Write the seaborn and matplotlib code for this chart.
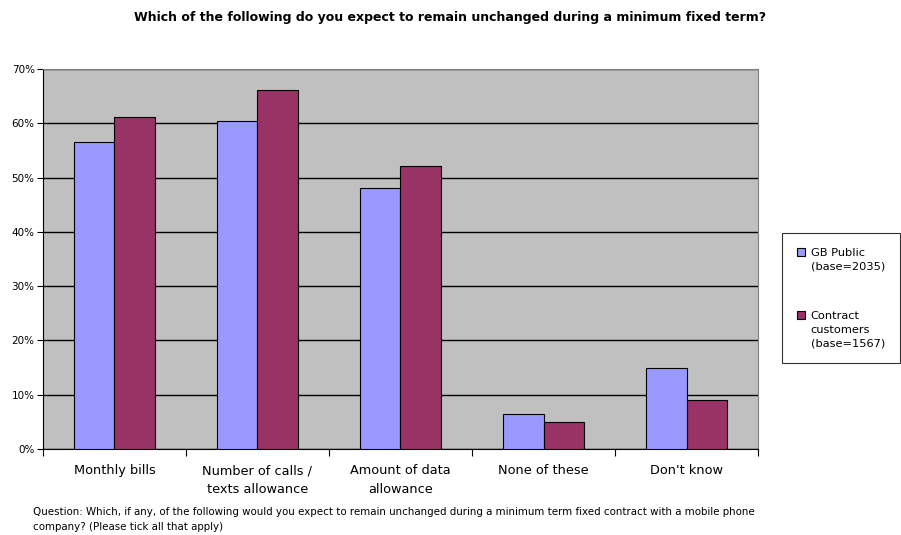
import pandas as pd
import matplotlib
matplotlib.use('Agg')
import matplotlib.pyplot as plt
import seaborn as sns

# data (percent)
categories = ['Monthly bills', 'Number of calls /\ntexts allowance', 'Amount of data\nallowance',
              'None of these', "Don't know"]
gb_public = [56.5, 60.4, 48.1, 6.4, 14.9]
contract = [61.1, 66.1, 52.1, 5.0, 9.0]
series_names = ['GB Public\n(base=2035)', 'Contract\ncustomers\n(base=1567)']
yticks = [0, 10, 20, 30, 40, 50, 60, 70]

df = pd.DataFrame({
    'category': categories * 2,
    'value': gb_public + contract,
    'series': [series_names[0]] * len(categories) + [series_names[1]] * len(categories),
})

sns.set_style('white')
plt.rcParams['font.family'] = ['DejaVu Sans']
plt.rcParams['text.color'] = 'black'
plt.rcParams['xtick.color'] = 'black'
plt.rcParams['ytick.color'] = 'black'

fig = plt.figure(figsize=(9.01, 5.35), dpi=100)
ax = fig.add_axes([0.0477, 0.1607, 0.7936, 0.7103])
ax.set_facecolor('#C0C0C0')

sns.barplot(data=df, x='category', y='value', hue='series', ax=ax,
            palette=['#9999FF', '#993366'], width=0.57, edgecolor='black',
            linewidth=0.8, saturation=1, zorder=3)

ax.set_ylim(0, 70)
ax.set_xlim(-0.5, len(categories) - 0.5)
ax.set_yticks(yticks)
ax.set_yticklabels([f'{t}%' for t in yticks], fontsize=7.5)
ax.yaxis.grid(True, color='black', linewidth=1, zorder=0)
ax.set_axisbelow(True)
ax.tick_params(axis='y', length=4, width=0.8, color='black', pad=2, left=True)

# category labels centered, tick marks at category boundaries
ax.set_xticks(range(len(categories)))
ax.set_xticklabels(categories, fontsize=9.3, linespacing=1.55)
ax.tick_params(axis='x', length=0, pad=11)
ax.set_xticks([i - 0.5 for i in range(len(categories) + 1)], minor=True)
ax.tick_params(axis='x', which='minor', length=5, width=0.8, color='black', bottom=True)

ax.set_xlabel('')
ax.set_ylabel('')
for side in ['left', 'bottom']:
    ax.spines[side].set_color('black')
    ax.spines[side].set_linewidth(0.8)
for side in ['top', 'right']:
    ax.spines[side].set_color('#808080')
    ax.spines[side].set_linewidth(0.8)

handles, labels = ax.get_legend_handles_labels()
leg = ax.legend(handles, labels, loc='upper left', bbox_to_anchor=(0.868, 0.565),
                bbox_transform=fig.transFigure, frameon=True, fancybox=False,
                edgecolor='black', fontsize=8.2, handlelength=0.75, handleheight=0.75,
                handletextpad=0.45, labelspacing=3.5, borderpad=1.3, borderaxespad=0)
leg.get_frame().set_linewidth(0.8)
for t in leg.get_texts():
    t.set_linespacing(1.45)
for col in leg._legend_handle_box.get_children():
    for row in col.get_children():
        row.align = 'top'

fig.text(0.5, 0.967, 'Which of the following do you expect to remain unchanged during a minimum fixed term?',
         ha='center', va='center', fontsize=9, fontweight='bold')
fig.text(0.037, 0.029,
         'Question: Which, if any, of the following would you expect to remain unchanged during a minimum term fixed contract with a mobile phone\ncompany? (Please tick all that apply)',
         ha='left', va='center', fontsize=7.35, linespacing=1.65)

plt.savefig('out.png', dpi=100)
